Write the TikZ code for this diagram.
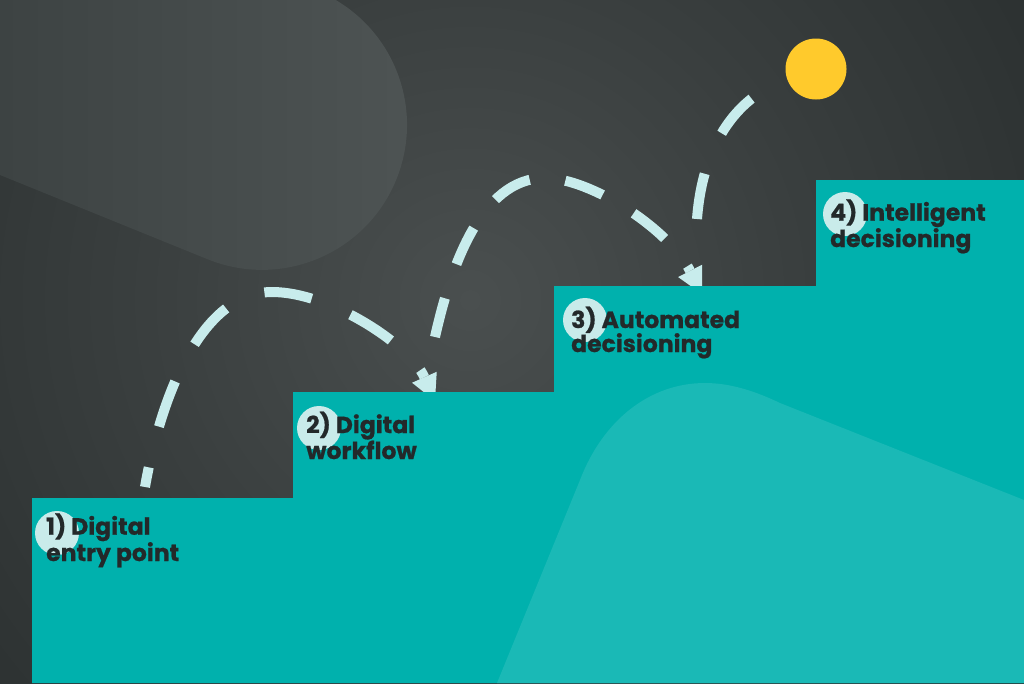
\documentclass[tikz,border=0pt]{standalone}
\usepackage{fontspec}
\newfontfamily\stepfont{Poppins}[BoldFeatures={FakeBold=0.8}]
\usetikzlibrary{arrows.meta}

\definecolor{bgdark}{HTML}{222727}
\definecolor{bgmid}{HTML}{3A3F3F}
\definecolor{bglight}{HTML}{4A4F4F}
\definecolor{blobleft}{HTML}{3D4343}
\definecolor{blobright}{HTML}{4E5454}
\definecolor{stepteal}{HTML}{00B1AD}
\definecolor{hillteal}{HTML}{1AB9B6}
\definecolor{dashcyan}{HTML}{C8ECEC}
\definecolor{dotcyan}{HTML}{C9EBEA}
\definecolor{labelink}{HTML}{23292A}
\definecolor{sunyellow}{HTML}{FFCA2C}

\pgfdeclareradialshading{bgglow}{\pgfpointorigin}{color(0bp)=(bglight); color(9bp)=(bgmid);
    color(24bp)=(bgdark); color(50bp)=(bgdark)}

\begin{document}
\begin{tikzpicture}[x=1pt, y=1pt,
    hop/.style={draw=dashcyan, line width=10pt, -{Triangle[length=26pt,width=27pt,line width=0pt]}},
    numdot/.style={circle, fill=dotcyan, minimum size=44pt, inner sep=0pt},
    sunball/.style={circle, fill=sunyellow, minimum size=61pt, inner sep=0pt, outer sep=0pt},
    steplabel/.style={anchor=base west, align=left, inner sep=0pt, text=labelink,
        font=\stepfont\bfseries\fontsize{23.5}{24}\selectfont}]

    \useasboundingbox (0,0) rectangle (1024,-683);
    \clip (0,0) rectangle (1024,-683);

    % STEP CORNERS
    \coordinate (s1) at (32,-498);
    \coordinate (s2) at (293,-392);
    \coordinate (s3) at (554,-286);
    \coordinate (s4) at (816,-180);

    % BACKGROUND GLOW
    \fill[bgdark] (0,0) rectangle (1024,-683);
    \shade[shading=bgglow] (470,-300) circle (900);

    % GREY BLOB (top left)
    \shade[left color=blobleft, right color=blobright] (0,0) -- (0,-175) -- (207,-259)
        arc[start angle=-112.3, end angle=59.7, radius=145] -- cycle;

    % THE SUN
    \node[sunball] (sun) at (816,-69) {};

    % HOP 1 (step 1 to step 2)
    \coordinate (hop1a) at (145,-487);
    \coordinate (hop1b) at (435,-401);
    \draw[hop, dash pattern=on 48pt off 42pt, dash phase=28pt] (hop1a)
        .. controls (160,-400) and (200,-292) .. (272,-292)
        .. controls (330,-292) and (410,-345) .. (hop1b);

    % HOP 2 (step 2 to step 3)
    \coordinate (hop2a) at (435,-337);
    \coordinate (hop2b) at (702,-294);
    \draw[hop, dash pattern=on 40pt off 36pt] (hop2a)
        .. controls (450,-270) and (480,-178) .. (545,-178)
        .. controls (590,-178) and (668,-228) .. (hop2b);

    % HOP 3 (towards the sun)
    \coordinate (hop3a) at (697,-219);
    \draw[draw=dashcyan, line width=10pt, dash pattern=on 46pt off 44pt] (hop3a)
        .. controls (703,-140) and (740,-95) .. (sun.200);

    % THE STAIRS
    \fill[stepteal] (32,-683) -- (s1) -| (s2) -| (s3) -| (s4) -| (1024,-683) -- cycle;

    % LIGHT HILL (bottom right)
    \fill[hillteal] (497,-683) -- (580,-480)
        .. controls (603,-420) and (650,-383) .. (705,-383)
        .. controls (730,-383) and (755,-391) .. (780,-403)
        -- (1024,-500) -- (1024,-683) -- cycle;

    % 1. FIRST STEP
    \node[numdot] (dot1) at ([shift={(25,-35)}]s1) {};
    \node[steplabel] (lab1) at ([shift={(14,-63)}]s1) {1) Digital\\entry point};

    % 2. SECOND STEP
    \node[numdot] (dot2) at ([shift={(26,-36)}]s2) {};
    \node[steplabel] (lab2) at ([shift={(13,-67)}]s2) {2) Digital\\workflow};

    % 3. THIRD STEP
    \node[numdot] (dot3) at ([shift={(31,-34)}]s3) {};
    \node[steplabel] (lab3) at ([shift={(17,-66)}]s3) {3) Automated\\decisioning};

    % 4. FOURTH STEP
    \node[numdot] (dot4) at ([shift={(29,-34)}]s4) {};
    \node[steplabel] (lab4) at ([shift={(14,-67)}]s4) {4) Intelligent\\decisioning};

\end{tikzpicture}
\end{document}
